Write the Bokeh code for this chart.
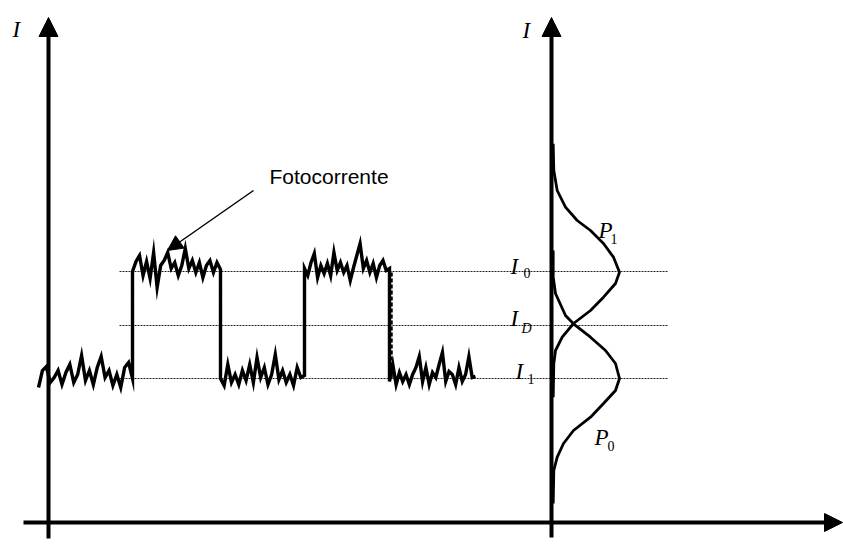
from bokeh.plotting import figure
from bokeh.models import Range1d, Arrow, NormalHead, ColumnDataSource
from bokeh.core.properties import value
from bokeh.embed import file_html
from bokeh.resources import INLINE
import numpy as np

# ---- data ----
I1_level = 144.0     # low photocurrent level (I_1)
I0_level = 251.0     # high photocurrent level (I_0)
ID_level = 197.0     # decision threshold (I_D)

# bit boundaries (time units) and the level of each bit
bit_edges = [-10, 84, 172, 256, 341, 427]
bit_levels = [I1_level, I0_level, I1_level, I0_level, I1_level]

noise_1 = [-9, 8, 12, -4, 1, 8, -6, 6, 14, -4, 4, 23, -2, 8, -6, 11, 22, 1, 8, -7, 4, -9, 11, 16, 0]
noise_2 = [0, 10, 16, -4, 10, -7, 19, -16, 6, 11, 19, 3, 9, -4, 6, 23, 3, 11, -1, 9, -6, 6, 11, -1, 9, 2]
noise_3 = [0, -7, 14, -4, 4, -6, 8, -2, 14, -4, 21, 1, 11, -6, 4, 24, -1, 8, -4, 4, -7, 11, 1, 3]
noise_4 = [3, -4, 9, 18, -6, 6, -2, 8, -4, 19, 1, 9, -1, 6, -9, 4, 16, 28, 3, 11, -1, 8, -6, 6, 11, 1, 3]
noise_5 = [-3, 14, -6, 6, -3, 4, -6, 4, 11, 22, -3, 11, -6, 6, 1, 14, 26, -3, 7, 4, -6, 11, -3, 4, 22, 1, 2]
noises = [noise_1, noise_2, noise_3, noise_4, noise_5]

# probability densities (horizontal offset from right axis) vs current
P1_current = [378.7, 352, 332, 315.3, 302, 292, 279, 265.3, 250.3, 239, 225.3, 212, 199, 185.3, 172, 159, 125.3]
P1_density = [1.7, 2.3, 5.7, 14, 25.7, 39, 52, 62, 68, 64, 52, 39, 22, 10.7, 4, 2.3, 1.7]
P0_current = [272, 245.3, 229, 207, 198.7, 185.3, 172, 159, 144, 132, 119, 105.3, 92, 79, 65.3, 52, 19]
P0_density = [1.7, 1.7, 4, 14, 22, 39, 54, 64, 68, 64, 52, 39, 22, 12, 5.7, 2.3, 1.7]

left_axis_x = 0.0
right_axis_x = 503.0
level_line_x = [71, 619]

# ---- figure ----
p = figure(width=843, height=553, output_backend="svg", toolbar_location=None,
           x_range=Range1d(-48, 795), y_range=Range1d(-31, 522),
           min_border=0, min_border_left=0, min_border_right=0,
           min_border_top=0, min_border_bottom=0)
p.axis.visible = False
p.grid.visible = False
p.outline_line_color = None
p.background_fill_color = "white"
p.border_fill_color = "white"

# level lines
for lv in [I0_level, ID_level, I1_level]:
    p.line(level_line_x, [lv, lv], line_color="#222222", line_width=1.1, line_dash="2 1")

# noisy photocurrent trace
tx, ty = [], []
for i, nz in enumerate(noises):
    xs = np.linspace(bit_edges[i], bit_edges[i + 1], len(nz))
    tx.extend(xs.tolist())
    ty.extend((bit_levels[i] + np.array(nz, dtype=float)).tolist())
p.line(tx, ty, line_color="black", line_width=3.4, line_join="miter")
# dashed overlay on the last falling edge
p.line([bit_edges[4] + 2, bit_edges[4] + 2], [I1_level, I0_level], line_color="black",
       line_width=2.5, line_dash="4 2")

# probability curves
p.line((right_axis_x + np.array(P1_density)).tolist(), P1_current, line_color="black", line_width=2.8)
p.line((right_axis_x + np.array(P0_density)).tolist(), P0_current, line_color="black", line_width=2.8)

# axes with arrows
def head(s):
    return NormalHead(size=s, fill_color="black", line_color="black", line_width=1)

p.add_layout(Arrow(end=head(19), x_start=left_axis_x, y_start=-16, x_end=left_axis_x, y_end=505,
                   line_width=4, line_color="black"))
p.add_layout(Arrow(end=head(19), x_start=right_axis_x, y_start=-15, x_end=right_axis_x, y_end=505,
                   line_width=4, line_color="black"))
p.add_layout(Arrow(end=head(18), x_start=-25, y_start=0, x_end=794, y_end=0,
                   line_width=4, line_color="black"))

# Fotocorrente pointer
p.add_layout(Arrow(end=head(15), x_start=205, y_start=332, x_end=119, y_end=272,
                   line_width=1.5, line_color="black"))
p.text(x=[221], y=[346], text=["Fotocorrente"], text_font=value("Liberation Sans"),
       text_font_size="21px", text_color="black", text_baseline="alphabetic")

serif = value("Liberation Serif")
# italic main symbols
main_src = ColumnDataSource(dict(
    x=[-36, 474, 462, 462, 467, 550, 546],
    y=[493, 492, 256, 204, 151, 292, 85],
    t=["I", "I", "I", "I", "I", "P", "P"]))
p.text(x="x", y="y", text="t", source=main_src, text_font=serif, text_font_style="italic",
       text_font_size="23px", text_color="black", text_baseline="alphabetic")
# subscripts
sub_src = ColumnDataSource(dict(
    x=[475, 479, 562, 559],
    y=[250, 144, 284, 77],
    t=["0", "1", "1", "0"]))
p.text(x="x", y="y", text="t", source=sub_src, text_font=serif,
       text_font_size="14px", text_color="black", text_baseline="alphabetic")
p.text(x=[473], y=[194], text=["D"], text_font=serif, text_font_style="italic",
       text_font_size="14px", text_color="black", text_baseline="alphabetic")

open("out.html", "w").write(file_html(p, INLINE))
